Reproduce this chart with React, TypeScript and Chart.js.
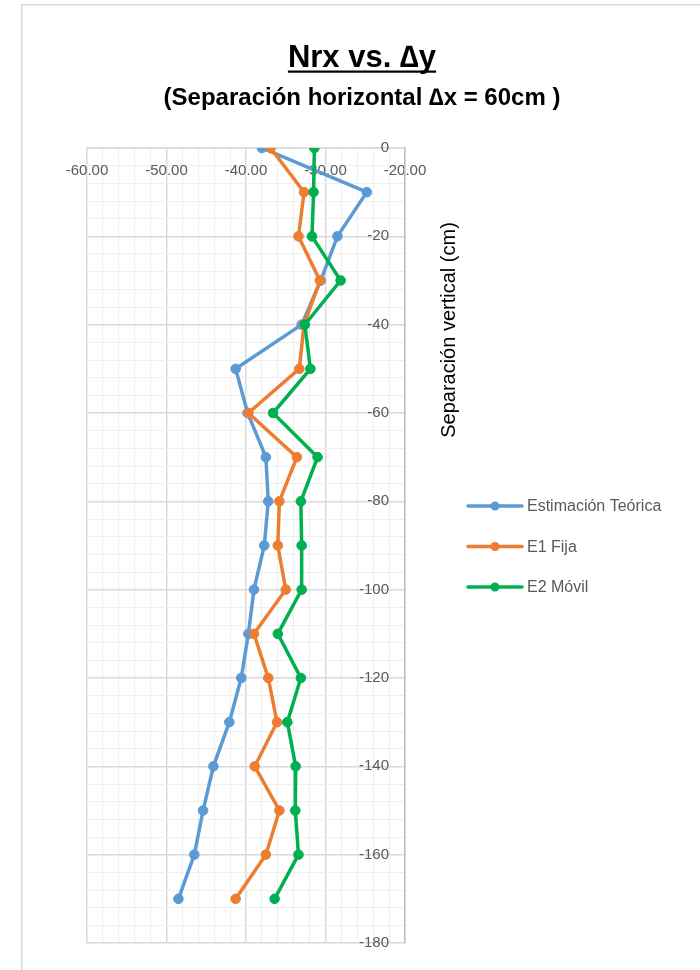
import React, { useEffect, useRef } from 'react';
import { Chart, registerables } from 'chart.js';

Chart.register(...registerables);

// ---------- text ----------
const TITLE = 'Nrx vs. \u2206y';
const SUBTITLE = '(Separación horizontal \u2206x = 60cm )';
const Y_TITLE = 'Separación vertical (cm)';

// ---------- data ----------
const DEPTHS = [0, -10, -20, -30, -40, -50, -60, -70, -80, -90, -100, -110, -120, -130, -140, -150, -160, -170];
const SERIES_NAMES = ['Estimación Teórica', 'E1 Fija', 'E2 Móvil'];
const SERIES_COLORS = ['#5B9BD5', '#ED7D31', '#00B050'];
const TEORICA = [-38.0, -24.8, -28.5, -30.6, -33.0, -41.3, -39.8, -37.5, -37.2, -37.7, -39.0, -39.7, -40.6, -42.1, -44.1, -45.4, -46.5, -48.5];
const E1_FIJA = [-36.9, -32.7, -33.4, -30.7, -32.7, -33.3, -39.7, -33.6, -35.8, -36.0, -35.0, -39.0, -37.2, -36.1, -38.9, -35.8, -37.5, -41.3];
const E2_MOVIL = [-31.4, -31.5, -31.7, -28.1, -32.6, -31.9, -36.6, -31.0, -33.1, -33.0, -33.0, -36.0, -33.1, -34.8, -33.75, -33.8, -33.4, -36.4];

// ---------- axes ----------
const X_MIN = -60;
const X_MAX = -20;
const X_STEP = 2;
const X_LABEL_STEP = 10;
const Y_MIN = -180;
const Y_MAX = 0;
const Y_STEP = 4;
const Y_LABEL_STEP = 20;

const FONT = '"Liberation Sans", Arial, sans-serif';
const MAJOR_GRID = '#d9d9d9';
const MINOR_GRID = '#efefef';

const decorPlugin = {
  id: 'decor',
  beforeDraw(chart: any) {
    const ctx = chart.ctx;
    ctx.save();
    ctx.fillStyle = '#ffffff';
    ctx.fillRect(0, 0, chart.width, chart.height);
    ctx.strokeStyle = '#d9d9d9';
    ctx.lineWidth = 1.5;
    ctx.strokeRect(21.75, 4.75, chart.width + 50, chart.height + 50);
    ctx.restore();
  },
  afterDraw(chart: any) {
    const ctx = chart.ctx;
    const cx = 362;
    ctx.save();
    // Title
    ctx.fillStyle = '#000000';
    ctx.textAlign = 'center';
    ctx.textBaseline = 'alphabetic';
    ctx.font = `bold 31px ${FONT}`;
    ctx.fillText(TITLE, cx, 67);
    const tw = ctx.measureText(TITLE).width;
    ctx.fillRect(cx - tw / 2, 70.5, tw, 2.2);
    // Subtitle
    ctx.font = `bold 24px ${FONT}`;
    ctx.fillText(SUBTITLE, cx, 105);

    // Y axis title
    ctx.save();
    ctx.translate(455, 330);
    ctx.rotate(-Math.PI / 2);
    ctx.font = `20px ${FONT}`;
    ctx.fillStyle = '#000000';
    ctx.textAlign = 'center';
    ctx.textBaseline = 'alphabetic';
    ctx.fillText(Y_TITLE, 0, 0);
    ctx.restore();

    // Legend
    const lx0 = 468;
    const lx1 = 522;
    chart.data.datasets.forEach((ds: any, i: number) => {
      const y = 506 + i * 40.5;
      ctx.strokeStyle = ds.borderColor;
      ctx.lineWidth = 3.5;
      ctx.lineCap = 'round';
      ctx.beginPath();
      ctx.moveTo(lx0, y);
      ctx.lineTo(lx1, y);
      ctx.stroke();
      ctx.fillStyle = ds.borderColor;
      ctx.beginPath();
      ctx.arc((lx0 + lx1) / 2, y, 4.5, 0, Math.PI * 2);
      ctx.fill();
      ctx.fillStyle = '#595959';
      ctx.font = `16px ${FONT}`;
      ctx.textAlign = 'left';
      ctx.textBaseline = 'middle';
      ctx.fillText(ds.label, 527, y + 1);
    });
    ctx.restore();
  },
};

function makeDataset(label: string, color: string, values: number[], order: number) {
  return {
    label,
    data: values.map((v, i) => ({ x: v, y: DEPTHS[i] })),
    showLine: true,
    borderColor: color,
    backgroundColor: color,
    borderWidth: 3.5,
    pointRadius: 4.8,
    pointBackgroundColor: color,
    pointBorderColor: color,
    pointBorderWidth: 1,
    tension: 0,
    order,
  };
}

export default function App() {
  const canvasRef = useRef<HTMLCanvasElement | null>(null);

  useEffect(() => {
    if (!canvasRef.current) return;
    const seriesValues = [TEORICA, E1_FIJA, E2_MOVIL];
    const chart = new Chart(canvasRef.current, {
      type: 'scatter',
      data: {
        datasets: SERIES_NAMES.map((n, i) => makeDataset(n, SERIES_COLORS[i], seriesValues[i], 3 - i)),
      },
      options: {
        responsive: false,
        animation: false,
        events: [],
        layout: { padding: { left: 87, right: 295, top: 120, bottom: 27 } },
        plugins: {
          legend: { display: false },
          tooltip: { enabled: false },
          title: { display: false },
        },
        scales: {
          x: {
            type: 'linear',
            position: 'top',
            min: X_MIN,
            max: X_MAX,
            ticks: {
              stepSize: X_STEP,
              autoSkip: false,
              maxRotation: 0,
              minRotation: 0,
              mirror: true,
              padding: 14,
              color: '#595959',
              font: { family: FONT, size: 15 },
              callback: (v: any) => (Number(v) % X_LABEL_STEP === 0 ? Number(v).toFixed(2) : ''),
            },
            grid: {
              drawTicks: false,
              color: (c: any) => (c.tick && c.tick.value % X_LABEL_STEP === 0 ? MAJOR_GRID : MINOR_GRID),
              lineWidth: (c: any) => (c.tick && c.tick.value % X_LABEL_STEP === 0 ? 1.5 : 1),
            },
            border: { display: true, color: MAJOR_GRID, width: 1.5 },
          },
          y: {
            type: 'linear',
            position: 'right',
            min: Y_MIN,
            max: Y_MAX,
            ticks: {
              stepSize: Y_STEP,
              autoSkip: false,
              mirror: true,
              padding: -16,
              color: '#595959',
              font: { family: FONT, size: 15 },
              callback: (v: any) => (Number(v) % Y_LABEL_STEP === 0 ? String(Number(v)) : ''),
            },
            grid: {
              drawTicks: false,
              color: (c: any) => (c.tick && c.tick.value % Y_LABEL_STEP === 0 ? MAJOR_GRID : MINOR_GRID),
              lineWidth: (c: any) => (c.tick && c.tick.value % Y_LABEL_STEP === 0 ? 1.5 : 1),
            },
            border: { display: true, color: '#bfbfbf', width: 1.5 },
          },
        },
      },
      plugins: [decorPlugin],
    } as any);
    return () => chart.destroy();
  }, []);

  return (
    <div style={{ position: 'absolute', left: 0, top: 0, width: 700, height: 970, overflow: 'hidden', background: '#fff' }}>
      <canvas ref={canvasRef} width={700} height={970} style={{ display: 'block' }} />
    </div>
  );
}
